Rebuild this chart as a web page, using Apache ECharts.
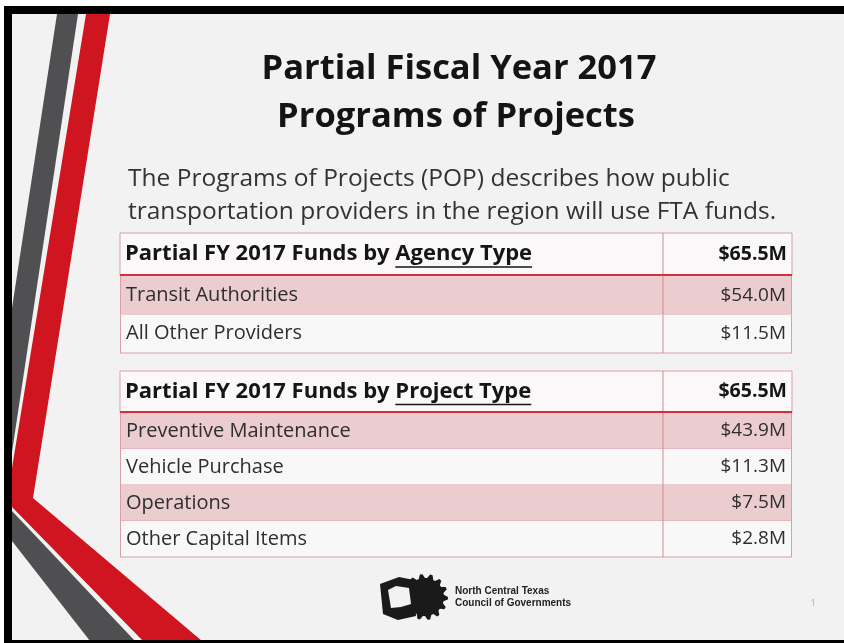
<!DOCTYPE html>
<html><head><meta charset="utf-8">
<script src="https://cdn.jsdelivr.net/npm/echarts@6/dist/echarts.min.js"></script>
<style>html,body{margin:0;padding:0;background:#fff}#c{width:844px;height:643px}</style>
</head><body><div id="c"></div>
<script>
// ---- data ----
const titleLines = ['Partial Fiscal Year 2017', 'Programs of Projects'];
const introLines = ['The Programs of Projects (POP) describes how public', 'transportation providers in the region will use FTA funds.'];
const agencyHeader = ['Partial FY 2017 Funds by ', 'Agency Type'];
const agencyCategories = ['Transit Authorities', 'All Other Providers'];
const agencyValues = [54.0, 11.5];
const agencyTotal = 65.5;
const projectHeader = ['Partial FY 2017 Funds by ', 'Project Type'];
const projectCategories = ['Preventive Maintenance', 'Vehicle Purchase', 'Operations', 'Other Capital Items'];
const projectValues = [43.9, 11.3, 7.5, 2.8];
const projectTotal = 65.5;
const logoLines = ['North Central Texas', 'Council of Governments'];
const pageNumber = '1';

// ---- style ----
const FONT = '"Open Sans", Lato, sans-serif';
const PINK = '#ebcdd0';
const WHITE_ROW = '#f9f8f8';
const BORDER = '#dba0a7';
const RED_LINE = '#d2303c';
const DIV = 0.808;
const TL = 120, TR = 792;

const chart = echarts.init(document.getElementById('c'), null, {renderer: 'canvas'});

const ctx = document.createElement('canvas').getContext('2d');
function textW(t, font){ ctx.font = font; return ctx.measureText(t).width; }
const fmt = v => '$' + v.toFixed(1) + 'M';

function rowRenderer(cats){
  return function(params, api){
    const i = api.value(1);
    const v = api.value(0);
    const p0 = api.coord([0, i]);
    const p1 = api.coord([1, i]);
    const h = api.size([0, 1])[1];
    const x0 = p0[0], x1 = p1[0], yc = p0[1], top = yc - h / 2;
    const xd = api.coord([DIV, i])[0];
    const ln = (a,b,c,d,col,w) => ({type:'line', shape:{x1:a,y1:b,x2:c,y2:d}, style:{stroke:col, lineWidth:w||1}});
    return {type:'group', children:[
      {type:'rect', shape:{x:x0, y:top, width:x1-x0, height:h}, style:{fill: i % 2 === 0 ? PINK : WHITE_ROW}},
      ln(x0, top+h, x1, top+h, BORDER),
      ln(x0+0.5, top, x0+0.5, top+h, BORDER),
      ln(x1-0.5, top, x1-0.5, top+h, BORDER),
      ln(xd, top, xd, top+h, '#cf8b94'),
      {type:'text', style:{text: cats[i], x: x0+6, y: yc, align:'left', verticalAlign:'middle', fill:'#2e2e2e', font:'20px ' + FONT}},
      {type:'text', style:{text: fmt(v), x: x1-6, y: yc, align:'right', verticalAlign:'middle', fill:'#2e2e2e', font:'19px ' + FONT}}
    ]};
  };
}

function headerGraphics(top, bottom, parts, total){
  const hf = 'bold 22px ' + FONT;
  const yc = (top + bottom) / 2;
  const xd = TL + (TR - TL) * DIV;
  const w1 = textW(parts[0], hf), w2 = textW(parts[1], hf);
  return [
    {type:'rect', shape:{x:TL, y:top, width:TR-TL, height:bottom-top}, style:{fill:'#faf8f8', stroke:BORDER, lineWidth:1}, z:10},
    {type:'line', shape:{x1:xd, y1:top, x2:xd, y2:bottom}, style:{stroke:'#cf8b94', lineWidth:1}, z:11},
    {type:'line', shape:{x1:TL, y1:bottom, x2:TR, y2:bottom}, style:{stroke:RED_LINE, lineWidth:2}, z:12},
    {type:'text', x:TL+5, y:yc, style:{text: parts[0] + parts[1], fill:'#151515', font:hf, align:'left', verticalAlign:'middle'}, z:12},
    {type:'line', shape:{x1:TL+5+w1, y1:yc+13, x2:TL+5+w1+w2, y2:yc+13}, style:{stroke:'#151515', lineWidth:1.3}, z:12},
    {type:'text', x:TR-5, y:yc, style:{text: fmt(total), fill:'#151515', font:'bold 19.5px ' + FONT, align:'right', verticalAlign:'middle'}, z:12}
  ];
}

// gear polygon for logo
const gear = [];
(function(){
  const cx = 425, cy = 597, n = 14;
  for (let k = 0; k < n * 4; k++) {
    const a = (k / (n * 4)) * Math.PI * 2;
    const r = (k % 4 < 2) ? 23 : 19;
    gear.push([cx + r * Math.cos(a), cy + r * Math.sin(a)]);
  }
})();

const graphics = [
  // page background
  {type:'rect', shape:{x:0, y:0, width:844, height:643}, style:{fill:'#ffffff'}, z:0},
  {type:'rect', shape:{x:12, y:14, width:832, height:626}, style:{fill:'#f3f2f2'}, z:0},
  // decorative stripes
  {type:'polygon', shape:{points:[[57,14],[78,14],[12,452],[12,308]]}, style:{fill:'#505052'}, z:1},
  {type:'polygon', shape:{points:[[86,14],[110,14],[33,498],[202,641],[143,641],[12,507],[12,468]]}, style:{fill:'#cf1620'}, z:1},
  {type:'polygon', shape:{points:[[12,511],[135,641],[90,641],[12,541]]}, style:{fill:'#4f4f51'}, z:1},
  // frame
  {type:'rect', shape:{x:4, y:6, width:840, height:8}, style:{fill:'#000'}, z:2},
  {type:'rect', shape:{x:4, y:6, width:8, height:637}, style:{fill:'#000'}, z:2},
  {type:'rect', shape:{x:4, y:640, width:840, height:3}, style:{fill:'#000'}, z:2},
  // title
  {type:'text', x:459, y:69, style:{text:titleLines[0], fill:'#141414', font:'bold 34.5px ' + FONT, align:'center', verticalAlign:'middle'}, z:5},
  {type:'text', x:456, y:117, style:{text:titleLines[1], fill:'#141414', font:'bold 34.5px ' + FONT, align:'center', verticalAlign:'middle'}, z:5},
  // intro
  {type:'text', x:128, y:179, style:{text:introLines[0], fill:'#333', font:'24.5px ' + FONT, align:'left', verticalAlign:'middle'}, z:5},
  {type:'text', x:128, y:212, style:{text:introLines[1], fill:'#333', font:'24.5px ' + FONT, align:'left', verticalAlign:'middle'}, z:5},
  // logo
  {type:'polygon', shape:{points:gear}, style:{fill:'#1a1a1a'}, z:5},
  {type:'polygon', shape:{points:[[380,584],[399,577],[414,580],[416,616],[398,620],[383,614]]}, style:{fill:'#1a1a1a'}, z:5},
  {type:'polygon', shape:{points:[[388,590],[396,586],[409,588],[411,604],[401,607],[391,608]]}, style:{fill:'#f2f2f2'}, z:6},
  {type:'text', x:455, y:591, style:{text:logoLines[0], fill:'#222', font:'bold 10px "Liberation Sans", Arial, sans-serif', align:'left', verticalAlign:'middle'}, z:5},
  {type:'text', x:455, y:603, style:{text:logoLines[1], fill:'#222', font:'bold 10px "Liberation Sans", Arial, sans-serif', align:'left', verticalAlign:'middle'}, z:5},
  {type:'text', x:813, y:603, style:{text:pageNumber, fill:'#aaa', font:'9px ' + FONT, align:'center', verticalAlign:'middle'}, z:5}
].concat(headerGraphics(233, 275, agencyHeader, agencyTotal))
 .concat(headerGraphics(371, 412, projectHeader, projectTotal));

const option = {
  animation: false,
  graphic: {elements: graphics},
  grid: [
    {left: TL, width: TR - TL, top: 276, height: 77},
    {left: TL, width: TR - TL, top: 413, height: 144}
  ],
  xAxis: [
    {gridIndex: 0, type: 'value', min: 0, max: 1, show: false},
    {gridIndex: 1, type: 'value', min: 0, max: 1, show: false}
  ],
  yAxis: [
    {gridIndex: 0, type: 'category', data: agencyCategories, inverse: true, show: false},
    {gridIndex: 1, type: 'category', data: projectCategories, inverse: true, show: false}
  ],
  series: [
    {type: 'custom', xAxisIndex: 0, yAxisIndex: 0, z: 20, clip: false,
     encode: {x: 0, y: 1}, renderItem: rowRenderer(agencyCategories),
     data: agencyValues.map((v, i) => [v, i])},
    {type: 'custom', xAxisIndex: 1, yAxisIndex: 1, z: 20, clip: false,
     encode: {x: 0, y: 1}, renderItem: rowRenderer(projectCategories),
     data: projectValues.map((v, i) => [v, i])}
  ]
};
chart.setOption(option);
</script></body></html>
